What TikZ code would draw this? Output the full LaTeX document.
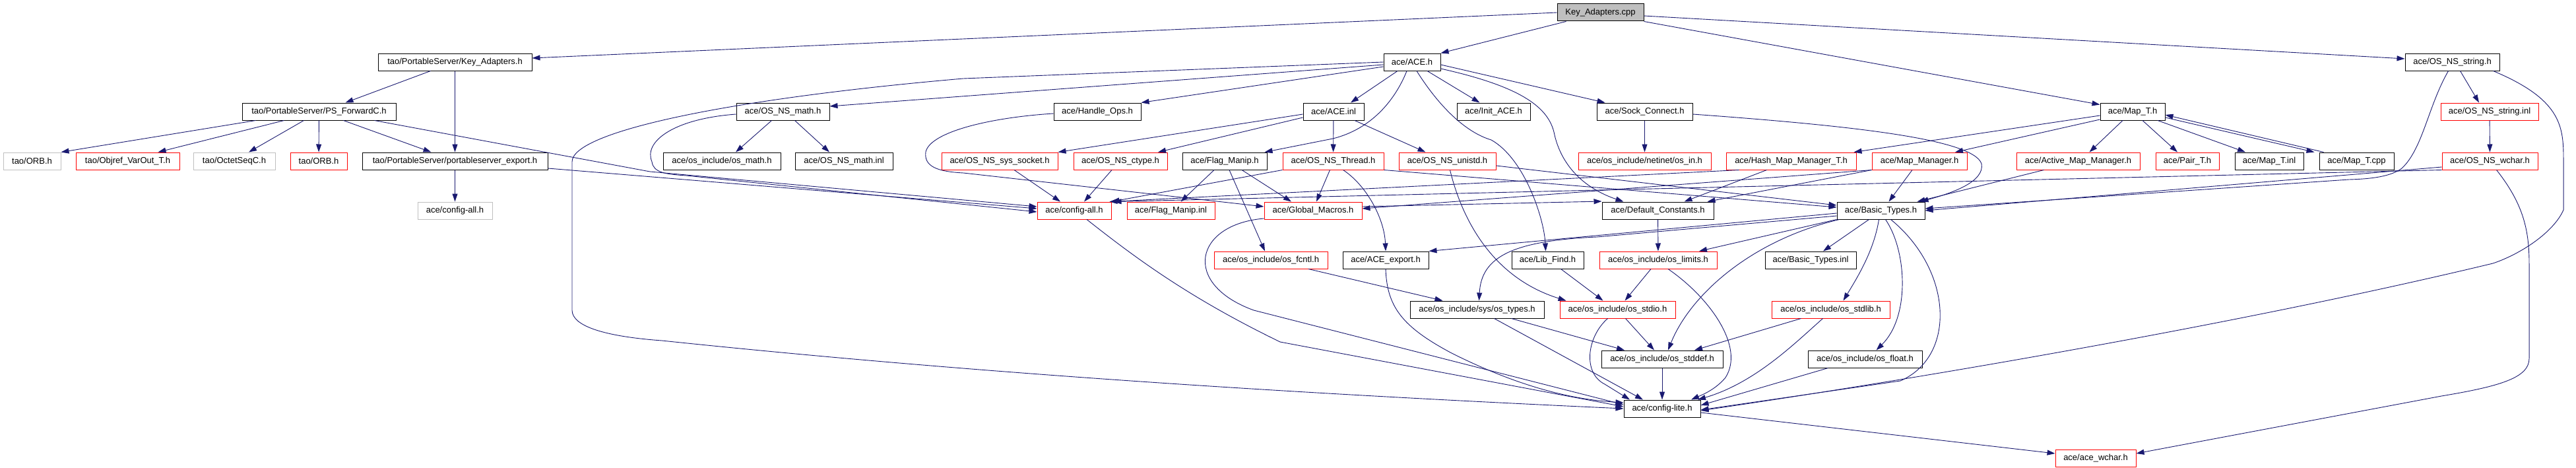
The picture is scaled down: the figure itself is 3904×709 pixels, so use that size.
\documentclass[tikz,border=0pt]{standalone}
\usepackage{fontspec}
\setmainfont{Liberation Sans}
\usetikzlibrary{arrows.meta}
\definecolor{edgeblue}{HTML}{191970}
\definecolor{boxgray}{HTML}{BFBFBF}
\tikzset{file/.style={draw=black,line width=1pt,inner sep=0pt,minimum height=26pt,font=\fontsize{13pt}{15pt}\selectfont}}
\tikzset{trunc file/.style={file,draw=red}}
\tikzset{gray file/.style={file,draw=boxgray}}
\tikzset{main file/.style={file,fill=boxgray}}
\tikzset{dep/.style={draw=edgeblue,line width=0.9pt,-{Triangle[length=12pt,width=8pt]}}}

\begin{document}
\begin{tikzpicture}[x=1pt,y=-1pt]
\useasboundingbox (0,0) rectangle (3904,709);
% ファイルの配置
\node[main file,minimum width=131pt] (kacpp) at (2425.5,19) {Key\_Adapters.cpp};
\node[file,minimum width=233pt] (kah) at (689.5,94) {tao/PortableServer/Key\_Adapters.h};
\node[file,minimum width=86pt] (aceh) at (2140,94) {ace/ACE.h};
\node[file,minimum width=143pt] (nsstr) at (3716.5,94) {ace/OS\_NS\_string.h};
\node[file,minimum width=233pt] (psfwd) at (483.5,169) {tao/PortableServer/PS\_ForwardC.h};
\node[file,minimum width=141pt] (nsmath) at (1186.5,169) {ace/OS\_NS\_math.h};
\node[file,minimum width=132pt] (hops) at (1663,169) {ace/Handle\_Ops.h};
\node[file,minimum width=92pt] (aceinl) at (2021,169) {ace/ACE.inl};
\node[file,minimum width=111pt] (initace) at (2263.5,169) {ace/Init\_ACE.h};
\node[file,minimum width=145pt] (sockc) at (2492.5,169) {ace/Sock\_Connect.h};
\node[file,minimum width=98pt] (mapt) at (3232,169) {ace/Map\_T.h};
\node[trunc file,minimum width=148pt] (nsstrinl) at (3773,169) {ace/OS\_NS\_string.inl};
\node[gray file,minimum width=87pt] (orbg) at (48.5,244) {tao/ORB.h};
\node[trunc file,minimum width=157pt] (objref) at (193.5,244) {tao/Objref\_VarOut\_T.h};
\node[gray file,minimum width=124pt] (octet) at (355,244) {tao/OctetSeqC.h};
\node[trunc file,minimum width=86pt] (orbr) at (483,244) {tao/ORB.h};
\node[file,minimum width=281pt] (psexp) at (689.5,244) {tao/PortableServer/portableserver\_export.h};
\node[file,minimum width=178pt] (osmath) at (1094,244) {ace/os\_include/os\_math.h};
\node[file,minimum width=148pt] (nsmathinl) at (1279,244) {ace/OS\_NS\_math.inl};
\node[trunc file,minimum width=176pt] (sock) at (1515,244) {ace/OS\_NS\_sys\_socket.h};
\node[trunc file,minimum width=142pt] (ctype) at (1698,244) {ace/OS\_NS\_ctype.h};
\node[file,minimum width=128pt] (flag) at (1856,244) {ace/Flag\_Manip.h};
\node[trunc file,minimum width=153pt] (thread) at (2020.5,244) {ace/OS\_NS\_Thread.h};
\node[trunc file,minimum width=147pt] (unistd) at (2193.5,244) {ace/OS\_NS\_unistd.h};
\node[trunc file,minimum width=201pt] (osin) at (2492.5,244) {ace/os\_include/netinet/os\_in.h};
\node[trunc file,minimum width=197pt] (hashmap) at (2714.5,244) {ace/Hash\_Map\_Manager\_T.h};
\node[trunc file,minimum width=144pt] (mapmgr) at (2909,244) {ace/Map\_Manager.h};
\node[trunc file,minimum width=187pt] (actmap) at (3149.5,244) {ace/Active\_Map\_Manager.h};
\node[trunc file,minimum width=96pt] (pair) at (3315,244) {ace/Pair\_T.h};
\node[file,minimum width=104pt] (maptinl) at (3439,244) {ace/Map\_T.inl};
\node[file,minimum width=113pt] (maptcpp) at (3571.5,244) {ace/Map\_T.cpp};
\node[trunc file,minimum width=145pt] (nswchar) at (3773.5,244) {ace/OS\_NS\_wchar.h};
\node[gray file,minimum width=113pt] (cfgallg) at (689.5,319) {ace/config-all.h};
\node[trunc file,minimum width=112pt] (cfgall) at (1628,319) {ace/config-all.h};
\node[trunc file,minimum width=133pt] (flaginl) at (1774.5,319) {ace/Flag\_Manip.inl};
\node[trunc file,minimum width=148pt] (glob) at (1990,319) {ace/Global\_Macros.h};
\node[file,minimum width=169pt] (defc) at (2512.5,319) {ace/Default\_Constants.h};
\node[file,minimum width=133pt] (basic) at (2850.5,319) {ace/Basic\_Types.h};
\node[trunc file,minimum width=172pt] (fcntl) at (1926,394) {ace/os\_include/os\_fcntl.h};
\node[file,minimum width=130pt] (aceexp) at (2100,394) {ace/ACE\_export.h};
\node[file,minimum width=109pt] (libfind) at (2345.5,394) {ace/Lib\_Find.h};
\node[trunc file,minimum width=178pt] (limits) at (2513,394) {ace/os\_include/os\_limits.h};
\node[file,minimum width=138pt] (basicinl) at (2744,394) {ace/Basic\_Types.inl};
\node[file,minimum width=203pt] (types) at (2238.5,469) {ace/os\_include/sys/os\_types.h};
\node[trunc file,minimum width=175pt] (stdio) at (2451.5,469) {ace/os\_include/os\_stdio.h};
\node[trunc file,minimum width=179pt] (stdlib) at (2774.5,469) {ace/os\_include/os\_stdlib.h};
\node[file,minimum width=184pt] (stddef) at (2519,544) {ace/os\_include/os\_stddef.h};
\node[file,minimum width=173pt] (float) at (2826.5,544) {ace/os\_include/os\_float.h};
\node[file,minimum width=116pt] (cfglite) at (2519,619) {ace/config-lite.h};
\node[trunc file,minimum width=122pt] (wchar) at (3176,694) {ace/ace\_wchar.h};
% 依存関係の矢印
\draw[dep] (kacpp.west) -- ([yshift=6]kah.east);
\draw[dep] ([xshift=-52]kacpp.south) -- (aceh.north east);
\draw[dep] (kacpp.south east) -- ([yshift=-3]mapt.north west);
\draw[dep] ([yshift=-5]kacpp.east) -- ([yshift=5]nsstr.west);
\draw[dep] ([xshift=-37]kah.south) -- ([xshift=40]psfwd.north);
\draw[dep] (kah) -- (psexp);
\draw[dep] ([xshift=-96]psfwd.south) -- (orbg.north east);
\draw[dep] ([xshift=-53]psfwd.south) -- ([xshift=46]objref.north);
\draw[dep] ([xshift=-23]psfwd.south) -- ([xshift=22]octet.north);
\draw[dep] (psfwd) -- (orbr);
\draw[dep] ([xshift=37]psfwd.south) -- ([xshift=-36]psexp.north);
\draw[dep] ([xshift=84]psfwd.south) -- (985,260) -- ([yshift=6]cfgall.west);
\draw[dep] (psexp) -- (cfgallg);
\draw[dep] ([yshift=-11]psexp.east) -- ([yshift=3]cfgall.west);
\draw[dep] ([xshift=-17]nsmath.south) -- ([xshift=21]osmath.north);
\draw[dep] ([xshift=18]nsmath.south) -- ([xshift=-22]nsmathinl.north);
\draw[dep] ([yshift=-4]nsmath.west) .. controls (1020,180) and (975,215) .. (988,245) .. controls (990,262) and (1010,264) .. (1040,266) -- ([yshift=-2]cfgall.west);
\draw[dep] (aceh.west) -- (1460,119) .. controls (1100,150) and (867,200) .. (867,245) -- (867,470) .. controls (867,495) and (920,510) .. (1003,516) .. controls (1500,568) and (2000,598) .. (cfglite.west);
\draw[dep] ([yshift=-4]aceh.west) -- ([yshift=8]nsmath.east);
\draw[dep] ([yshift=-7]aceh.west) -- (hops.north east);
\draw[dep] ([xshift=-22]aceh.south) -- ([xshift=26]aceinl.north);
\draw[dep] ([xshift=-8]aceh.south) .. controls (2115,150) and (2080,195) .. (2020,210) -- ([xshift=-4]flag.north east);
\draw[dep] ([xshift=23]aceh.south) -- ([xshift=-21]initace.north);
\draw[dep] ([xshift=7]aceh.south) .. controls (2180,160) and (2220,200) .. (2260,212) .. controls (2310,240) and (2340,330) .. ([xshift=-3]libfind.north);
\draw[dep] ([yshift=-4]aceh.east) -- ([xshift=13]sockc.north west);
\draw[dep] ([yshift=-10]aceh.east) .. controls (2300,130) and (2345,160) .. (2355,200) .. controls (2365,250) and (2400,285) .. ([xshift=-52]defc.north);
\draw[dep] ([yshift=-4]aceinl.west) -- (sock.north east);
\draw[dep] ([yshift=-9]aceinl.west) -- ([xshift=57]ctype.north);
\draw[dep] (aceinl) -- (thread);
\draw[dep] ([xshift=32]aceinl.south) -- ([xshift=-33]unistd.north);
\draw[dep] ([yshift=-3]hops.west) .. controls (1500,178) and (1410,200) .. (1403,230) .. controls (1400,252) and (1420,260) .. (1460,262) -- ([yshift=6]glob.west);
\draw[dep] ([xshift=22]sock.south) -- ([xshift=-21]cfgall.north);
\draw[dep] ([xshift=-13]ctype.south) -- ([xshift=15]cfgall.north);
\draw[dep] ([xshift=-16]flag.south) -- ([xshift=15]flaginl.north);
\draw[dep] ([xshift=7]flag.south) -- ([xshift=-9]fcntl.north);
\draw[dep] ([xshift=26]flag.south) -- ([xshift=-33]glob.north);
\draw[dep] ([xshift=-5]thread.south) -- ([xshift=5]glob.north);
\draw[dep] (thread.south west) -- (cfgall.north east);
\draw[dep] ([xshift=15]thread.south) .. controls (2070,280) and (2098,330) .. (aceexp.north);
\draw[dep] (thread.south east) -- ([yshift=5]basic.west);
\draw[dep] ([xshift=4]unistd.south) .. controls (2215,330) and (2260,420) .. ([xshift=-78]stdio.north);
\draw[dep] ([yshift=-7]unistd.east) -- ([yshift=8]basic.west);
\draw[dep] (sockc) -- (osin);
\draw[dep] ([yshift=-4]sockc.east) .. controls (2800,190) and (2990,210) .. (3003,248) .. controls (3008,275) and (2960,292) .. ([xshift=60]basic.north);
\draw[dep] ([yshift=-6]mapt.west) -- ([xshift=-4]hashmap.north east);
\draw[dep] ([yshift=-12]mapt.west) -- ([xshift=54]mapmgr.north);
\draw[dep] ([xshift=-15]mapt.south) -- ([xshift=17]actmap.north);
\draw[dep] ([xshift=15]mapt.south) -- ([xshift=-15]pair.north);
\draw[dep] ([xshift=38]mapt.south) -- ([xshift=-36]maptinl.north);
\draw[dep] ([yshift=-9]mapt.east) -- ([xshift=-64]maptcpp.north);
\draw[dep] ([xshift=-50]maptcpp.north) -- ([yshift=-5]mapt.east);
\draw[dep] ([xshift=-37]hashmap.south) -- ([xshift=40]defc.north);
\draw[dep] ([xshift=20]hashmap.south west) -- ([xshift=-3]cfgall.north east);
\draw[dep] (mapmgr.south west) -- ([xshift=75]defc.north);
\draw[dep] ([xshift=-11]mapmgr.south) -- ([xshift=12]basic.north);
\draw[dep] (mapmgr.south west) -- ([yshift=3]glob.east);
\draw[dep] ([xshift=-52]actmap.south) -- ([xshift=55]basic.north);
\draw[dep] ([yshift=6]glob.east) -- ([yshift=14]defc.west);
\draw[dep] ([xshift=12]nsstr.south) -- ([xshift=-16]nsstrinl.north);
\draw[dep] (nsstrinl) -- (nswchar);
\draw[dep] ([xshift=-6]nsstr.south) .. controls (3680,160) and (3672,225) .. (3640,255) .. controls (3625,266) and (3600,271) .. (3560,272) -- ([yshift=3]basic.east);
\draw[dep] ([yshift=-9]nswchar.west) -- (basic.east);
\draw[dep] (nswchar.south west) -- ([xshift=3]cfgall.north east);
\draw[dep] (defc) -- (limits);
\draw[dep] ([xshift=-18]basic.south) -- ([xshift=19]basicinl.north);
\draw[dep] (basic.south west) -- ([xshift=62]limits.north);
\draw[dep] ([yshift=-4]basic.west) -- (aceexp.north east);
\draw[dep] ([yshift=-8]basic.west) -- (2420,359) .. controls (2290,365) and (2245,390) .. ([xshift=3]types.north);
\draw[dep] ([xshift=-3]basic.south) .. controls (2840,380) and (2815,420) .. ([xshift=19]stdlib.north);
\draw[dep] ([xshift=7]basic.south) .. controls (2890,380) and (2895,480) .. ([xshift=17]float.north);
\draw[dep] ([xshift=-63]basic.south) .. controls (2650,365) and (2560,450) .. ([xshift=9]stddef.north);
\draw[dep] ([xshift=15]basic.south) .. controls (2960,410) and (2965,540) .. (2880,577) -- ([yshift=-2]cfglite.east);
\draw[dep] ([xshift=-11]limits.south) -- ([xshift=11]stdio.north);
\draw[dep] ([xshift=15]limits.south) .. controls (2590,450) and (2645,525) .. (2615,572) .. controls (2600,590) and (2580,598) .. ([xshift=44]cfglite.north);
\draw[dep] ([xshift=20]libfind.south) -- ([xshift=-22]stdio.north);
\draw[dep] ([xshift=57]fcntl.south) -- ([xshift=-52]types.north);
\draw[dep] ([xshift=52]types.south) -- ([xshift=-57]stddef.north);
\draw[dep] ([xshift=26]types.south) -- ([xshift=-29]cfglite.north);
\draw[dep] ([xshift=12]stdio.south) -- ([xshift=-12]stddef.north);
\draw[dep] ([xshift=-15]stdio.south) .. controls (2405,510) and (2398,565) .. (2432,582) -- ([xshift=-49]cfglite.north);
\draw[dep] ([xshift=-45]stdlib.south) -- ([xshift=49]stddef.north);
\draw[dep] ([xshift=-12]stdlib.south) .. controls (2720,520) and (2660,580) .. ([xshift=54]cfglite.north);
\draw[dep] ([xshift=-56]float.south) -- ([yshift=5]cfglite.east);
\draw[dep] (stddef) -- (cfglite);
\draw[dep] (aceexp.south) .. controls (2102,465) and (2125,495) .. (2200,535) .. controls (2300,585) and (2380,605) .. ([yshift=9]cfglite.west);
\draw[dep] ([yshift=-12]glob.west) .. controls (1810,340) and (1790,430) .. (1900,470) -- ([yshift=6]cfglite.west);
\draw[dep] ([xshift=19]cfgall.south) .. controls (1720,390) and (1800,450) .. (1940,518) -- ([yshift=3]cfglite.west);
\draw[dep] ([xshift=62]nsstr.south) .. controls (3880,150) and (3885,190) .. (3885,240) -- (3885,318) .. controls (3870,352) and (3820,385) .. (3778,399) .. controls (3400,490) and (2900,575) .. ([yshift=-3]cfglite.east);
\draw[dep] ([xshift=10]nswchar.south) .. controls (3825,310) and (3833,350) .. (3833,400) -- (3833,543) .. controls (3833,572) and (3790,585) .. (3700,600) -- ([yshift=7]wchar.east);
\draw[dep] ([yshift=-6]cfglite.east) -- ([yshift=7]wchar.west);
\end{tikzpicture}
\end{document}
